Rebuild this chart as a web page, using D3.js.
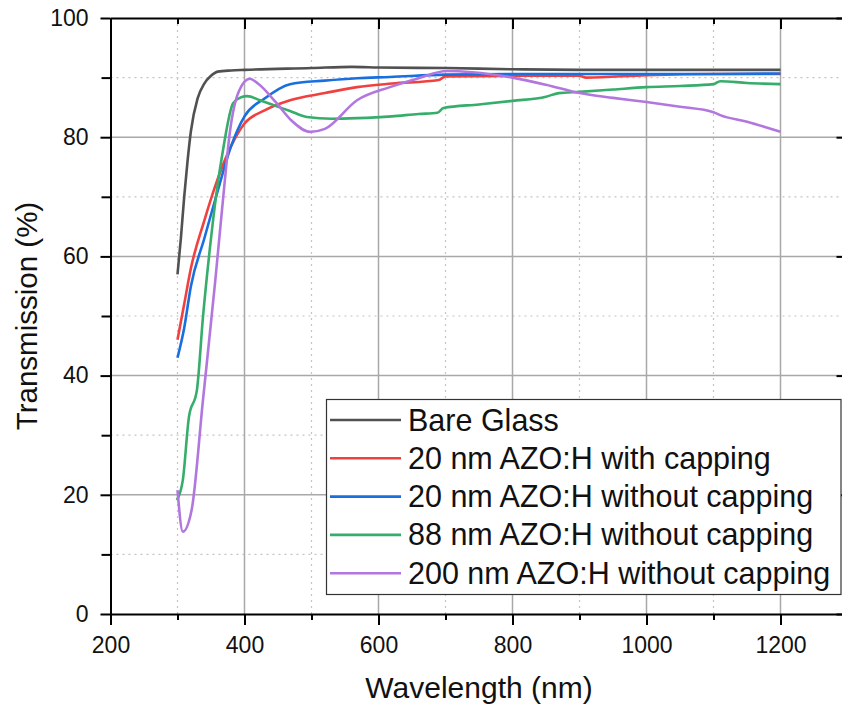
<!DOCTYPE html>
<html><head><meta charset="utf-8">
<script src="https://cdn.jsdelivr.net/npm/d3@7"></script>
<style>body{margin:0;background:#fff}svg{display:block}text{font-family:Arial,"Liberation Sans",sans-serif}</style>
</head><body><svg id="c" width="842" height="708"></svg>
<script>
const seriesNames = ["Bare Glass","20 nm AZO:H with capping","20 nm AZO:H without capping","88 nm AZO:H without capping","200 nm AZO:H without capping"];
const seriesColors = ["#515151","#F14040","#1A6FDF","#37AD6B","#B177DE"];
const bareWl = [300,305,310,315,320,330,340,350,360,380,400,500,560,600,700,800,900,1000,1100,1200];
const bareT  = [57,63,70,76,81,86.5,89,90.3,91,91.2,91.3,91.6,91.8,91.7,91.6,91.4,91.3,91.3,91.3,91.3];
const redWl = [300,310,320,340,360,380,400,430,468,520,568,620,690,700,800,900,910,1000,1100,1200];
const redT  = [46,52,58,66,73,78.5,82.3,84.5,86.2,87.4,88.4,89.0,89.6,90.2,90.3,90.3,90.0,90.4,90.6,90.6];
const blueWl = [300,310,320,340,360,380,400,430,468,520,568,617,700,800,900,1000,1100,1200];
const blueT  = [43,48,55,63,71,78.5,83.5,86.5,88.9,89.5,89.9,90.1,90.5,90.6,90.6,90.6,90.6,90.7];
const greenWl = [299,308,317,329,338,348,358,368,383,395,404,423,445,468,493,530,568,620,660,688,697,750,800,850,869,900,950,1000,1050,1100,1110,1150,1200];
const greenT  = [19.1,22.5,33,37.6,49.8,61,70.5,77.9,85.7,86.7,86.9,86.2,85.3,84.4,83.4,83.1,83.2,83.5,83.9,84.1,84.9,85.5,86.1,86.8,87.4,87.6,88.0,88.4,88.6,88.9,89.4,89.1,88.9];
const purpleWl = [300,308,321,338,356,370,378,392,408,420,448,470,498,520,568,617,660,702,740,800,850,900,950,1000,1050,1100,1110,1150,1200];
const purpleT  = [20.8,13.8,17.4,35.9,55.5,72,80.7,87.8,89.8,89.0,85.7,82.8,80.9,81.4,86.2,88.4,89.9,91.1,90.9,90.0,88.8,87.4,86.6,85.9,85.1,84.2,83.7,82.6,80.9];
const xTicks = [200,400,600,800,1000,1200];
const yTicks = [0,20,40,60,80,100];

const allSeries = [[bareWl,bareT],[redWl,redT],[blueWl,blueT],[greenWl,greenT],[purpleWl,purpleT]];

const svg = d3.select("#c");
const L = 110.5, R = 847.5, T = 18, B = 614;
const x = d3.scaleLinear().domain([200,1300]).range([L,R]);
const y = d3.scaleLinear().domain([0,100]).range([B,T]);

const g = svg.append("g");
const xMinor = d3.range(300,1300,200);
const yMinor = d3.range(10,100,20);
g.selectAll(".xm").data(xMinor).enter().append("line")
 .attr("x1",d=>x(d)).attr("x2",d=>x(d)).attr("y1",T).attr("y2",B)
 .attr("stroke","#c4c4c4").attr("stroke-width",1.2).attr("stroke-dasharray","2,4");
g.selectAll(".ym").data(yMinor).enter().append("line")
 .attr("x1",L).attr("x2",R).attr("y1",d=>y(d)).attr("y2",d=>y(d))
 .attr("stroke","#c4c4c4").attr("stroke-width",1.2).attr("stroke-dasharray","2,4");
g.selectAll(".xg").data(xTicks.filter(d=>d>200)).enter().append("line")
 .attr("x1",d=>x(d)).attr("x2",d=>x(d)).attr("y1",T).attr("y2",B)
 .attr("stroke","#a8a8a8").attr("stroke-width",1.5);
g.selectAll(".yg").data(yTicks.filter(d=>d>0&&d<100)).enter().append("line")
 .attr("x1",L).attr("x2",R).attr("y1",d=>y(d)).attr("y2",d=>y(d))
 .attr("stroke","#a8a8a8").attr("stroke-width",1.5);

const line = d3.line().x(d=>x(d[0])).y(d=>y(d[1])).curve(d3.curveMonotoneX);
allSeries.forEach((s,i)=>{
  const pts = s[0].map((w,k)=>[w,s[1][k]]);
  svg.append("path").datum(pts).attr("d",line).attr("fill","none")
   .attr("stroke",seriesColors[i]).attr("stroke-width",2.6).attr("stroke-linejoin","round");
});

function styleAxis(sel){
  sel.select(".domain").attr("stroke","#000").attr("stroke-width",2);
  sel.selectAll(".tick line").attr("stroke","#000").attr("stroke-width",2);
  sel.selectAll("text").attr("font-size",23).attr("fill","#111");
}
function minorAxis(axis, tr){
  const m = svg.append("g").attr("transform",tr).call(axis);
  m.select(".domain").remove();
  m.selectAll(".tick line").attr("stroke","#000").attr("stroke-width",2);
}
const fmt = d3.format("d");
const xb = svg.append("g").attr("transform",`translate(0,${B})`)
 .call(d3.axisBottom(x).tickValues(xTicks).tickSize(11).tickSizeOuter(0).tickPadding(12).tickFormat(fmt));
styleAxis(xb);
minorAxis(d3.axisBottom(x).tickValues(xMinor).tickSize(6).tickFormat(""), `translate(0,${B})`);
const xt = svg.append("g").attr("transform",`translate(0,${T})`)
 .call(d3.axisBottom(x).tickValues(xTicks).tickSize(11).tickSizeOuter(0).tickFormat(""));
styleAxis(xt);
minorAxis(d3.axisBottom(x).tickValues(xMinor).tickSize(6).tickFormat(""), `translate(0,${T})`);

const yl = svg.append("g").attr("transform",`translate(${L},0)`)
 .call(d3.axisLeft(y).tickValues(yTicks).tickSize(10).tickSizeOuter(0).tickPadding(12).tickFormat(fmt));
styleAxis(yl);
minorAxis(d3.axisLeft(y).tickValues(yMinor).tickSize(9).tickFormat(""), `translate(${L},0)`);
const yr = svg.append("g").attr("transform",`translate(${R},0)`)
 .call(d3.axisLeft(y).tickValues(yTicks).tickSize(11).tickSizeOuter(0).tickFormat(""));
styleAxis(yr);

svg.append("text").attr("x",x(750)).attr("y",698).attr("text-anchor","middle")
 .attr("font-size",30).attr("fill","#111").text("Wavelength (nm)");
svg.append("text").attr("transform",`translate(37,${y(50)}) rotate(-90)`).attr("text-anchor","middle")
 .attr("font-size",29.5).attr("fill","#111").text("Transmission (%)");

const lg = svg.append("g");
lg.append("rect").attr("x",326.5).attr("y",399.5).attr("width",514.5).attr("height",195)
 .attr("fill","#fff").attr("stroke","#333").attr("stroke-width",1.2);
seriesNames.forEach((n,i)=>{
  const yy = 420 + i*38.3;
  lg.append("line").attr("x1",330).attr("x2",401).attr("y1",yy).attr("y2",yy)
   .attr("stroke",seriesColors[i]).attr("stroke-width",2.6);
  lg.append("text").attr("x",408).attr("y",yy+10.5).attr("font-size",30.5).attr("fill","#111").text(n);
});
</script></body></html>
